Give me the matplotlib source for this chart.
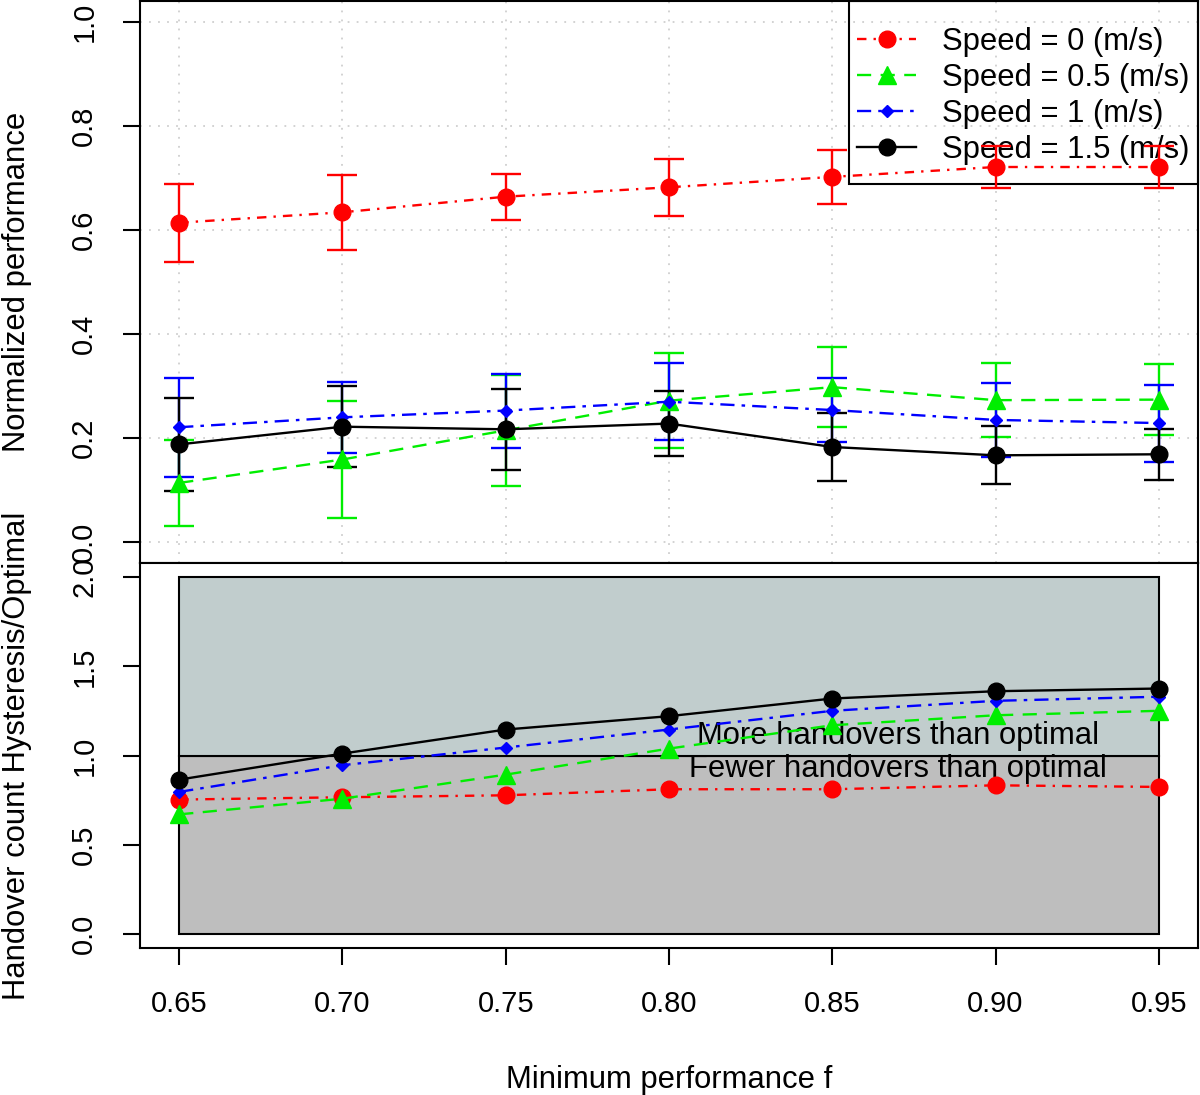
import matplotlib.pyplot as plt
from matplotlib.patches import Rectangle

plt.rcParams['font.family'] = ['Liberation Sans', 'DejaVu Sans']

f_vals = [0.65, 0.70, 0.75, 0.80, 0.85, 0.90, 0.95]
labels = ["Speed = 0 (m/s)", "Speed = 0.5 (m/s)", "Speed = 1 (m/s)", "Speed = 1.5 (m/s)"]

# normalized performance (mean) and error bar half width
perf_0 = [0.614, 0.634, 0.664, 0.682, 0.702, 0.721, 0.721]
err_0 = [0.075, 0.072, 0.044, 0.055, 0.052, 0.040, 0.040]
perf_05 = [0.114, 0.159, 0.215, 0.272, 0.298, 0.273, 0.274]
err_05 = [0.083, 0.113, 0.107, 0.091, 0.077, 0.071, 0.068]
perf_1 = [0.221, 0.240, 0.253, 0.270, 0.254, 0.235, 0.229]
err_1 = [0.095, 0.068, 0.071, 0.074, 0.061, 0.071, 0.074]
perf_15 = [0.188, 0.222, 0.217, 0.228, 0.183, 0.167, 0.169]
err_15 = [0.090, 0.078, 0.078, 0.063, 0.066, 0.056, 0.049]

# handover count ratio hysteresis / optimal
ho_0 = [0.753, 0.766, 0.777, 0.811, 0.811, 0.833, 0.824]
ho_05 = [0.670, 0.758, 0.893, 1.039, 1.170, 1.226, 1.251]
ho_1 = [0.796, 0.946, 1.045, 1.146, 1.251, 1.307, 1.330]
ho_15 = [0.865, 1.011, 1.146, 1.221, 1.320, 1.361, 1.376]

colors = ['#ff0000', '#00ee00', '#0000ff', '#000000']
markers = ['o', '^', 'D', 'o']
msizes = [12, 12.5, 6.5, 12]
styles = [(0, (4, 3, 1, 3)), (0, (6, 4)), (0, (6, 3, 1.5, 3)), '-']
fs = 22.3

fig = plt.figure(figsize=(12, 10.95), dpi=100)
ax1 = fig.add_axes([0.1167, 0.4858, 0.8816, 0.5133])
ax2 = fig.add_axes([0.1167, 0.1342, 0.8816, 0.3516])

perf = [perf_0, perf_05, perf_1, perf_15]
errs = [err_0, err_05, err_1, err_15]
handles = []
for i in range(4):
    ax1.errorbar(f_vals, perf[i], yerr=errs[i], fmt='none', ecolor=colors[i],
                 elinewidth=1.7, capsize=11, capthick=1.7, zorder=3)
    h, = ax1.plot(f_vals, perf[i], color=colors[i], linestyle=styles[i], lw=1.7,
                  marker=markers[i], markersize=msizes[i], zorder=4)
    handles.append(h)

ax1.set_xlim(0.638, 0.962)
ax1.set_ylim(-0.04, 1.04)
ax1.set_yticks([0, 0.2, 0.4, 0.6, 0.8, 1.0])
ax1.set_yticklabels(["0.0", "0.2", "0.4", "0.6", "0.8", "1.0"])
ax1.set_xticks(f_vals)
ax1.tick_params(axis='x', bottom=False, labelbottom=False)
ax1.grid(True, color='#cfcfcf', linestyle=(0, (1, 4)), lw=1.3)
ax1.set_ylabel("Normalized performance", fontsize=fs)

# legend box like R's legend(): frame drawn by hand, points plotted over it
lx, ly, lw_, lh = 0.670, 0.6744, 0.330, 0.3256
ax1.add_patch(Rectangle((lx, ly), lw_, lh, transform=ax1.transAxes, facecolor='none',
                        edgecolor='black', lw=1.5, zorder=2, clip_on=False))
leg = ax1.legend(handles, labels, loc='center', bbox_to_anchor=(lx, ly - 0.006, lw_, lh),
                 fontsize=fs, frameon=False, borderaxespad=0, borderpad=0.2,
                 handlelength=1.9, handletextpad=0.85, labelspacing=0.2)
leg.set_zorder(2)

ax2.add_patch(Rectangle((0.65, 0), 0.30, 1, facecolor='#bebebe', edgecolor='black', lw=1.5, zorder=1))
ax2.add_patch(Rectangle((0.65, 1), 0.30, 1, facecolor='#c1cdcd', edgecolor='black', lw=1.5, zorder=1))
ho = [ho_0, ho_05, ho_1, ho_15]
for i in range(4):
    ax2.plot(f_vals, ho[i], color=colors[i], linestyle=styles[i], lw=1.7,
             marker=markers[i], markersize=msizes[i], zorder=4)
ax2.text(0.870, 1.107, "More handovers than optimal", fontsize=fs, ha='center', va='center', zorder=3)
ax2.text(0.870, 0.927, "Fewer handovers than optimal", fontsize=fs, ha='center', va='center', zorder=3)

ax2.set_xlim(0.638, 0.962)
ax2.set_ylim(-0.08, 2.08)
ax2.set_yticks([0, 0.5, 1.0, 1.5, 2.0])
ax2.set_yticklabels(["0.0", "0.5", "1.0", "1.5", "2.0"])
ax2.set_xticks(f_vals)
ax2.set_xticklabels(["%.2f" % v for v in f_vals])
ax2.set_ylabel("Handover count Hysteresis/Optimal", fontsize=fs)
ax2.set_xlabel("Minimum performance f", fontsize=fs, labelpad=34)

for ax in (ax1, ax2):
    for s in ax.spines.values():
        s.set_linewidth(1.5)
    ax.tick_params(axis='both', labelsize=21, length=12, width=1.5, pad=18)
    ax.tick_params(axis='y', labelrotation=90)
    for t in ax.get_yticklabels():
        t.set_va('center')
    ax.yaxis.set_label_coords(-0.102, 0.5)

plt.savefig('out.png', dpi=100)
